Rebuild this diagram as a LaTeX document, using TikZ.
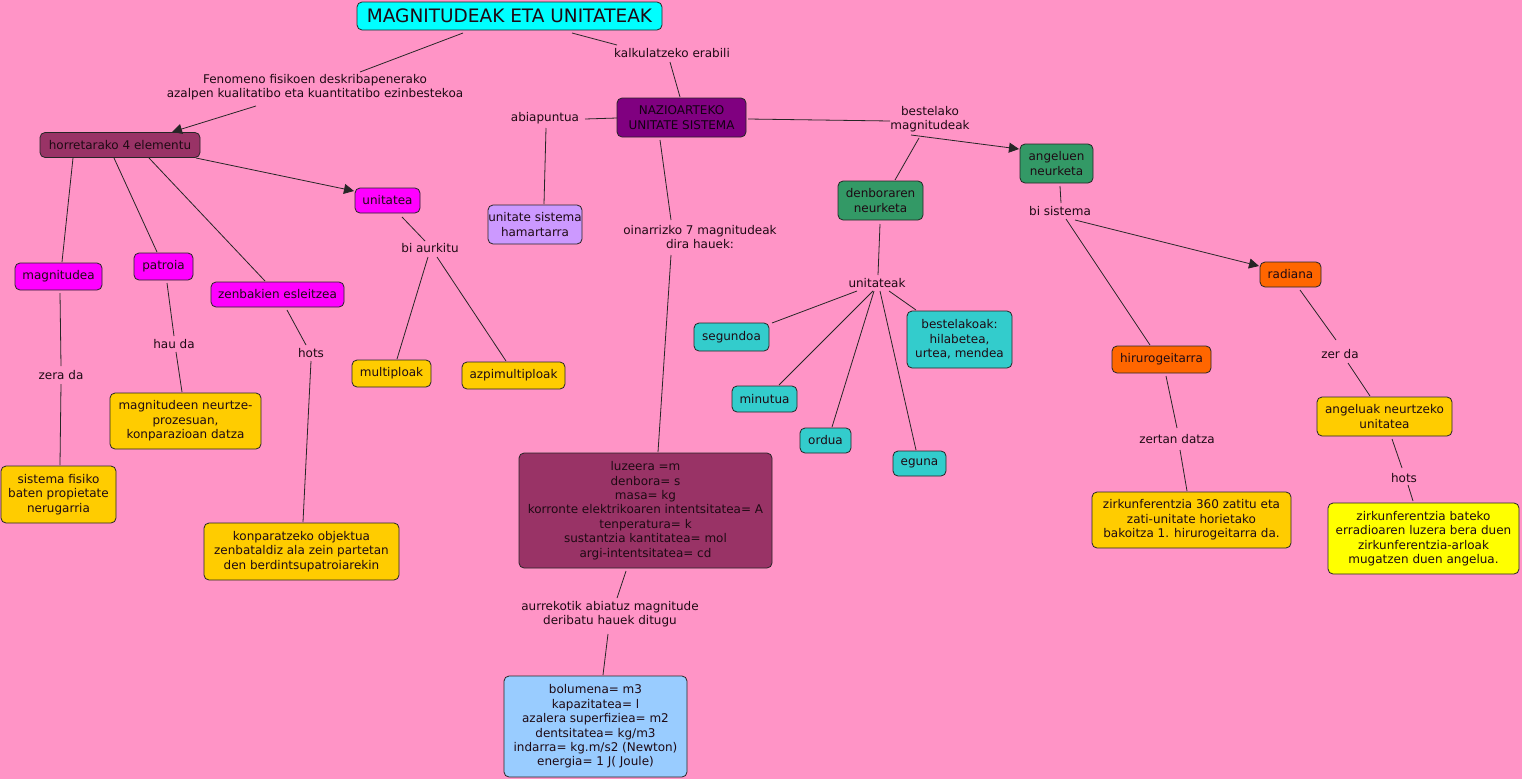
\documentclass[tikz,border=0pt]{standalone}
\usepackage{fontspec}
\setmainfont{DejaVu Sans}
\usetikzlibrary{arrows.meta}
\definecolor{bg}{HTML}{FF94C6}
\definecolor{txt}{HTML}{1E0A14}
\definecolor{cyanc}{HTML}{00FFFF}
\definecolor{maroonc}{HTML}{993366}
\definecolor{magc}{HTML}{FF00FF}
\definecolor{purpc}{HTML}{800080}
\definecolor{lavc}{HTML}{CC99FF}
\definecolor{greenc}{HTML}{339966}
\definecolor{orangec}{HTML}{FF6600}
\definecolor{goldc}{HTML}{FFCC00}
\definecolor{bluec}{HTML}{99CCFF}
\definecolor{tealc}{HTML}{33CCCC}
\definecolor{yelc}{HTML}{FFFF00}
\begin{document}
\begin{tikzpicture}[x=1pt,y=-1pt,
  font=\fontsize{12}{14.4}\selectfont,
  box/.style={draw=black!85, rounded corners=5pt, line width=0.8pt, align=center, inner sep=0pt, text=txt},
  lbl/.style={align=center, inner sep=1pt, text=txt},
  con/.style={line width=0.8pt, draw=black!85},
  arr/.style={con, -{Triangle[length=10pt,width=10pt]}}]
\fill[bg] (0,0) rectangle (1522,779);
\useasboundingbox (0,0) rectangle (1522,779);
% concept nodes
\node[box, fill=cyanc, minimum width=305pt, minimum height=28pt, font=\fontsize{18.5}{20}\selectfont] (title) at (509.5,16) {MAGNITUDEAK ETA UNITATEAK};
\node[box, fill=maroonc, minimum width=160pt, minimum height=25pt] (hor) at (120,145) {horretarako 4 elementu};
\node[box, fill=magc, minimum width=65pt, minimum height=25pt] (unit) at (387.5,200.5) {unitatea};
\node[box, fill=purpc, minimum width=129pt, minimum height=39pt, text=black!85!purpc] (naz) at (681.5,117.5) {NAZIOARTEKO\\UNITATE SISTEMA};
\node[box, fill=lavc, minimum width=94pt, minimum height=39pt] (ham) at (535,224.5) {unitate sistema\\hamartarra};
\node[box, fill=greenc, minimum width=85pt, minimum height=39pt] (den) at (880.5,200.5) {denboraren\\neurketa};
\node[box, fill=greenc, minimum width=73pt, minimum height=39pt] (ang) at (1056.5,163.5) {angeluen\\neurketa};
\node[box, fill=orangec, minimum width=61pt, minimum height=25pt] (rad) at (1290.5,274.5) {radiana};
\node[box, fill=magc, minimum width=87pt, minimum height=27pt] (mag) at (58.5,276.5) {magnitudea};
\node[box, fill=magc, minimum width=59pt, minimum height=27pt] (pat) at (163.5,266.5) {patroia};
\node[box, fill=magc, minimum width=133pt, minimum height=25pt] (zen) at (277.5,294.5) {zenbakien esleitzea};
\node[box, fill=goldc, minimum width=79pt, minimum height=27pt] (mult) at (391.5,373.5) {multiploak};
\node[box, fill=goldc, minimum width=103pt, minimum height=27pt] (azp) at (513.5,375.5) {azpimultiploak};
\node[box, fill=goldc, minimum width=151pt, minimum height=56pt] (mne) at (185.5,421) {magnitudeen neurtze-\\prozesuan,\\konparazioan datza};
\node[box, fill=goldc, minimum width=115pt, minimum height=57pt] (sis) at (58.5,494.5) {sistema fisiko\\baten propietate\\nerugarria};
\node[box, fill=goldc, minimum width=195pt, minimum height=57pt] (kon) at (301.5,551.5) {konparatzeko objektua\\zenbataldiz ala zein partetan\\den berdintsupatroiarekin};
\node[box, fill=maroonc, minimum width=253pt, minimum height=115pt] (luz) at (645.5,510.5) {luzeera =m\\denbora= s\\masa= kg\\korronte elektrikoaren intentsitatea= A\\tenperatura= k\\sustantzia kantitatea= mol\\argi-intentsitatea= cd};
\node[box, fill=bluec, minimum width=183pt, minimum height=101pt] (bol) at (595.5,726.5) {bolumena= m3\\kapazitatea= l\\azalera superfiziea= m2\\dentsitatea= kg/m3\\indarra= kg.m/s2 (Newton)\\energia= 1 J( Joule)};
\node[box, fill=tealc, minimum width=75pt, minimum height=28pt] (seg) at (731.5,337) {segundoa};
\node[box, fill=tealc, minimum width=65pt, minimum height=26pt] (min) at (764.5,399) {minutua};
\node[box, fill=tealc, minimum width=51pt, minimum height=25pt] (ord) at (825.5,440.5) {ordua};
\node[box, fill=tealc, minimum width=53pt, minimum height=25pt] (egu) at (919.5,463.5) {eguna};
\node[box, fill=tealc, minimum width=105pt, minimum height=57pt] (bes) at (959.5,339.5) {bestelakoak:\\hilabetea,\\urtea, mendea};
\node[box, fill=orangec, minimum width=99pt, minimum height=27pt] (hir) at (1161.5,359.5) {hirurogeitarra};
\node[box, fill=goldc, minimum width=199pt, minimum height=56pt] (zr1) at (1191.5,520) {zirkunferentzia 360 zatitu eta\\zati-unitate horietako\\bakoitza 1. hirurogeitarra da.};
\node[box, fill=goldc, minimum width=135pt, minimum height=39pt] (anu) at (1384.5,416.5) {angeluak neurtzeko\\unitatea};
\node[box, fill=yelc, minimum width=191pt, minimum height=71pt] (zr2) at (1423.5,538.5) {zirkunferentzia bateko\\erradioaren luzera bera duen\\zirkunferentzia-arloak\\mugatzen duen angelua.};
% linking phrases
\node[lbl] (lfen) at (315,87) {Fenomeno fisikoen deskribapenerako\\azalpen kualitatibo eta kuantitatibo ezinbestekoa};
\node[lbl] (lkal) at (672,53) {kalkulatzeko erabili};
\node[lbl] (labi) at (545,118) {abiapuntua};
\node[lbl] (lbes) at (930,119) {bestelako\\magnitudeak};
\node[lbl] (loin) at (700,237) {oinarrizko 7 magnitudeak\\dira hauek:};
\node[lbl] (luni) at (877,283) {unitateak};
\node[lbl] (lbis) at (1060,211) {bi sistema};
\node[lbl] (lzer) at (1340,354) {zer da};
\node[lbl] (lhot2) at (1404,478) {hots};
\node[lbl] (lzdt) at (1177,439) {zertan datza};
\node[lbl] (lbia) at (430,248) {bi aurkitu};
\node[lbl] (lzda) at (61,375) {zera da};
\node[lbl] (lhda) at (174,344) {hau da};
\node[lbl] (lhot1) at (311,353) {hots};
\node[lbl] (laur) at (610,614) {aurrekotik abiatuz magnitude\\deribatu hauek ditugu};
% plain connectors
\foreach \a/\ax/\ay/\b/\bx/\by in {
  title/-46.5/17/lfen/45/-15,
  title/62.5/17/lkal/-55/-8,
  lkal/-2/9/naz/-1.5/-20.5,
  naz/-64.5/0.5/labi/40/1,
  labi/1/10/ham/9/-20.5,
  naz/66.5/1.5/lbes/-40/2,
  lbes/-11/19/den/14.5/-20.5,
  naz/-21.5/22.5/loin/-29/-17,
  loin/-29/18/luz/12.5/-58.5,
  luz/-19.5/60.5/laur/7/-16,
  laur/-2/20/bol/7.5/-51.5,
  hor/-47/13/mag/3.5/-14.5,
  hor/-6/13/pat/-6.5/-14.5,
  hor/29/13/zen/-12.5/-13.5,
  unit/14.5/16.5/lbia/-5/-7,
  lbia/-2/9/mult/5.5/-14.5,
  lbia/7/9/azp/-7.5/-14.5,
  mag/1.5/16.5/lzda/0/-9,
  lzda/0/9/sis/1.5/-29.5,
  pat/3.5/16.5/lhda/0/-8,
  lhda/2/8/mne/-3.5/-29,
  zen/9.5/15.5/lhot1/-5/-8,
  lhot1/0/8/kon/1.5/-29.5,
  den/-0.5/23.5/luni/1/-8,
  luni/-20/8/seg/40.5/-14,
  luni/-4/8/min/14.5/-14,
  luni/-3/8/ord/6.5/-13.5,
  luni/3/8/egu/-3.5/-13.5,
  luni/12/8/bes/-43.5/-29.5,
  ang/3.5/22.5/lbis/1/-8,
  lbis/6/8/hir/-11.5/-14.5,
  rad/9.5/15.5/lzer/-4/-14,
  lzer/8/9/anu/-14.5/-20.5,
  hir/4.5/16.5/lzdt/0/-11,
  lzdt/3/11/zr1/-4.5/-29,
  anu/7.5/22.5/lhot2/-2/-10,
  lhot2/4/7/zr2/-10.5/-37.5}
  \draw[con] ([shift={(\ax,\ay)}]\a.center) -- ([shift={(\bx,\by)}]\b.center);
% arrows
\foreach \a/\ax/\ay/\b/\bx/\by in {
  lfen/-59/19/hor/52/-13,
  lbes/-19/16/ang/-37.5/-14.5,
  hor/76/13/unit/-33.5/-9.5,
  lbis/15/9/rad/-31.5/-8.5}
  \draw[arr] ([shift={(\ax,\ay)}]\a.center) -- ([shift={(\bx,\by)}]\b.center);
\end{tikzpicture}
\end{document}
